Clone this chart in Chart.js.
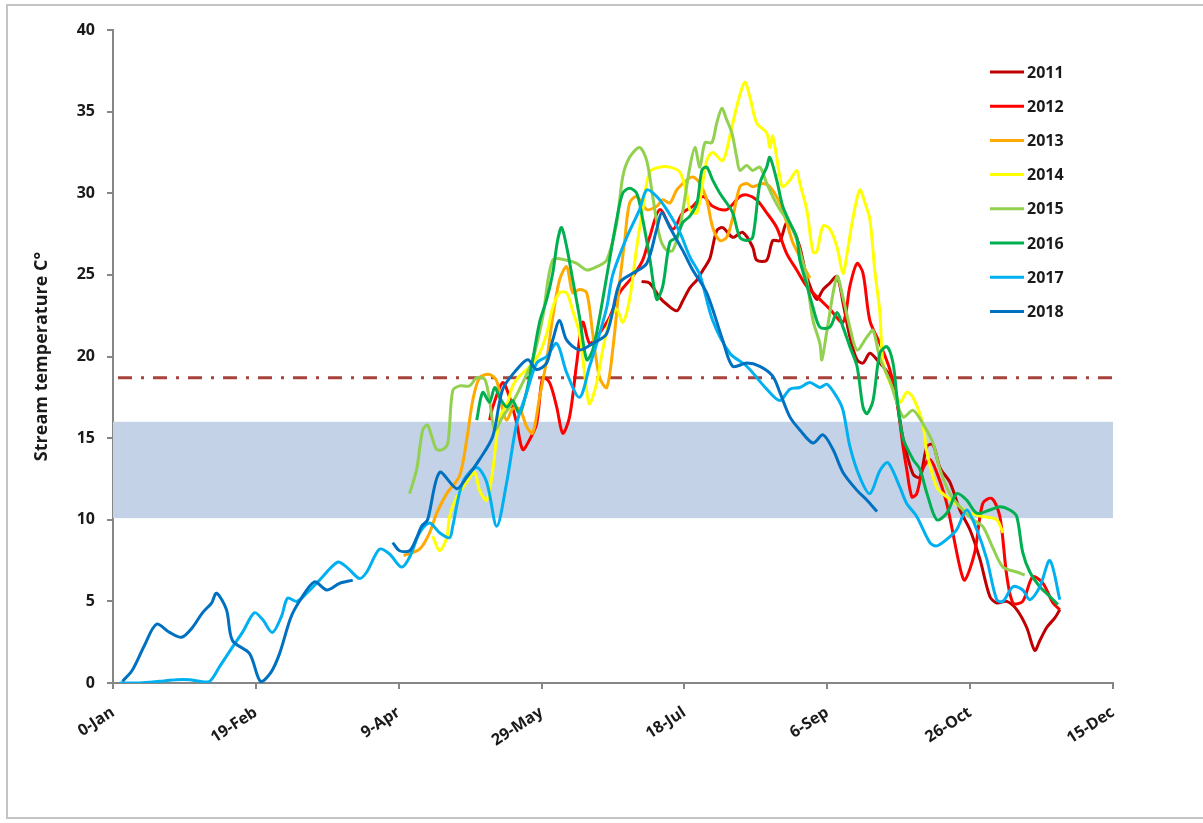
<!DOCTYPE html>
<html>
<head>
<meta charset="utf-8">
<script src="https://cdn.jsdelivr.net/npm/chart.js@4.4.1/dist/chart.umd.min.js"></script>
<style>
  html, body { margin: 0; padding: 0; background: #fff; }
  #contenedor { width: 1203px; height: 823px; }
</style>
</head>
<body>
<div id="contenedor"><canvas id="graficoTemperatura" width="1203" height="823"></canvas></div>
<script>
// dias del año (0 = 0-Jan) y temperatura del arroyo en °C
const anios = ["2011", "2012", "2013", "2014", "2015", "2016", "2017", "2018"]
const colores = ["#C00000", "#FF0000", "#FFAA00", "#FFFF00", "#92D050", "#00B050", "#00B0F0", "#0070C0"]
const etiquetasX = ["0-Jan", "19-Feb", "9-Apr", "29-May", "18-Jul", "6-Sep", "26-Oct", "15-Dec"]
const rangoOptimo = [10.1, 16]
const umbral = 18.7

const datos2011 = [[185,24.6],[187.8,24.5],[191.4,23.6],[193.8,23.2],[197.3,22.8],[199.4,23.4],[201.9,24.2],[204.4,24.7],[206.5,25.3],[208.9,26.0],[211.3,27.7],[213.4,27.9],[216.9,27.3],[220.4,27.6],[223.9,26.7],[225.3,25.9],[228.8,25.9],[230.9,27.1],[233.4,27.1],[235.8,28.2],[237.9,27.8],[240.4,26.7],[242.8,24.9],[246.3,23.5],[248.5,24.1],[250.9,24.5],[253.4,24.9],[255.5,23.3],[257.9,21.2],[260.4,19.8],[262.5,19.6],[264.9,20.2],[267.4,19.8],[271.9,18.8],[274.4,17.2],[276.5,15.0],[280,12.8],[282.4,12.6],[284.9,14.5],[287,14.6],[289.4,13.2],[292.9,12.3],[296.4,10.6],[299.9,9.4],[303.4,7.6],[306.9,5.3],[309.3,4.9],[312.8,5.0],[316.3,4.5],[319.8,3.4],[322.6,2.0],[324.4,2.6],[326.8,3.4],[329.7,4.0],[331.4,4.5]]

const datos2012 = [[131.8,16.1],[132.9,16.9],[136.4,18.4],[138.8,17.5],[141.3,15.9],[143.4,14.3],[145.8,14.9],[148.3,15.9],[150.4,18.7],[152.8,18.4],[155.3,16.9],[157.4,15.3],[159.8,16.3],[162.3,19.6],[164.4,22.1],[166.8,20.8],[169.3,21.2],[173.8,22.4],[177.3,23.9],[181.9,24.9],[185.4,25.9],[187.8,27.3],[191.4,29.0],[195.9,27.8],[199.4,28.8],[202.9,29.2],[206.5,29.8],[209.9,29.2],[214.8,29.0],[219.4,29.8],[221.8,29.9],[225.3,29.6],[228.8,28.8],[232.3,27.9],[235.8,26.3],[239.3,25.3],[242.8,24.3],[247.4,23.5],[250.9,22.9],[255.5,22.1],[257.9,24.3],[260.4,25.7],[262.5,25.1],[264.9,22.2],[268.4,20.8],[271.9,19.2],[274.4,17.2],[276.5,14.5],[277.8,13.1],[279.6,11.4],[281.3,11.6],[283.4,13.1],[285.9,13.7],[288.3,12.9],[291.8,11.0],[296.4,7.1],[298.1,6.3],[301.6,8.0],[304.4,11.0],[307.6,11.3],[310.4,10.2],[312.8,6.6],[315.0,4.9],[318.4,5.0],[321.9,6.5],[325.5,6.1],[329.0,4.9],[331.4,4.5]]

const datos2013 = [[101.7,7.8],[107.3,8.2],[110.8,9.2],[113.3,10.4],[116.8,11.6],[121.3,12.7],[123.8,14.9],[125.9,17.3],[128.3,18.7],[131.8,18.9],[134.3,18.5],[136.0,17.0],[137.8,16.1],[139.9,16.8],[142.3,16.8],[144.8,15.7],[146.9,15.3],[149.3,17.5],[151.8,19.8],[153.9,22.4],[156.3,24.7],[158.8,25.5],[160.9,23.9],[163.3,24.1],[165.8,23.9],[167.9,21.4],[170.3,18.7],[172.8,18.1],[174.9,20.4],[177.3,24.5],[179.1,27.1],[180.8,29.4],[183.3,29.8],[186.8,29.0],[190.3,29.2],[192.4,29.6],[194.9,29.4],[197.3,30.2],[200.8,30.8],[202.9,31.0],[205.4,30.6],[207.8,29.6],[209.9,27.9],[212.4,27.1],[214.8,27.3],[216.9,28.5],[219.4,30.4],[221.8,30.6],[223.9,30.4],[227.4,30.6],[229.9,30.4],[233.4,29.4],[235.8,28.2],[237.9,27.0],[240.4,26.1],[242.1,25.4],[243.9,24.8]]

const datos2014 = [[111.9,9.0],[114.3,8.1],[116.8,8.9],[117.8,10.2],[120.3,11.4],[123.8,12.3],[126.6,12.9],[128.3,11.8],[130.8,11.2],[132.9,13.0],[135.3,16.3],[137.8,17.0],[139.9,18.2],[142.3,18.8],[144.8,19.2],[146.9,19.6],[149.3,20.2],[151.8,21.4],[153.9,23.0],[156.3,23.9],[158.8,23.9],[160.9,22.8],[163.3,21.4],[165.8,17.9],[166.8,17.1],[169.3,18.4],[171.4,20.4],[173.8,22.2],[176.3,22.9],[178.4,22.1],[180.8,23.5],[183.3,26.7],[185.4,29.0],[187.8,31.3],[191.4,31.6],[194.9,31.6],[198.4,31.3],[200.8,30.0],[201.9,29.0],[204.4,28.8],[207.8,32.0],[209.9,32.5],[213.4,32.0],[215.9,33.5],[218.3,35.3],[221.1,36.8],[222.9,35.9],[225.3,34.3],[228.8,33.7],[229.9,32.8],[230.9,33.5],[233.4,31.0],[234.4,30.4],[236.9,30.8],[239.3,31.4],[240.4,30.6],[242.8,29.0],[245.0,26.4],[246.3,26.4],[248.5,28.0],[250.9,27.8],[253.4,26.7],[255.5,25.1],[256.9,26.3],[259.0,28.5],[261.4,30.2],[263.2,29.4],[264.9,28.4],[266.6,25.3],[268.4,22.7],[269.5,19.6],[271.9,18.4],[275.4,17.2],[277.8,17.8],[280.0,17.5],[283.4,15.9],[284.9,14.1],[288.3,12.0],[291.8,11.4],[296.4,10.8],[299.9,10.4],[304.4,10.2],[309.3,10.0],[311.5,9.2]]

const datos2015 = [[103.8,11.6],[106.3,13.1],[108.4,15.5],[110.1,15.8],[111.9,14.9],[113.3,14.3],[115.4,14.3],[117.2,14.7],[118.9,17.9],[121.3,18.2],[124.8,18.2],[127.3,18.7],[130.1,18.6],[131.8,17.3],[133.6,15.5],[136.4,16.3],[139.9,17.2],[143.4,18.4],[146.9,19.8],[150.4,22.4],[153.9,25.9],[158.8,25.9],[162.3,25.7],[165.8,25.3],[169.3,25.5],[172.8,25.9],[176.3,28.2],[178.4,31.0],[180.8,32.2],[184.3,32.8],[186.8,32.0],[188.9,29.8],[191.4,27.3],[193.8,26.5],[195.9,26.5],[198.4,27.9],[201.9,31.6],[203.7,32.8],[205.4,31.6],[207.2,33.1],[209.6,33.1],[211.3,34.3],[213.1,35.2],[214.8,34.5],[216.6,33.7],[218.3,32.2],[219.4,31.4],[221.8,31.7],[223.9,31.4],[226.4,31.6],[228.8,30.6],[230.9,29.8],[233.4,29.0],[235.8,28.4],[237.9,27.8],[240.4,26.5],[242.8,24.7],[245.0,22.2],[247.4,20.8],[248.1,19.8],[249.9,21.6],[253.4,24.9],[255.5,23.6],[257.9,21.8],[260.4,20.4],[263.9,21.2],[266.0,21.6],[268.4,19.9],[271.9,18.5],[276.5,16.3],[280.0,16.7],[283.4,15.9],[287.0,14.7],[289.4,13.1],[292.9,11.6],[296.4,10.8],[301.0,10.0],[304.4,9.6],[307.9,8.3],[311.5,7.1],[316.3,6.8],[319.1,6.6]]

const datos2016 = [[127.3,16.1],[129.4,17.8],[131.8,17.2],[133.6,18.1],[135.3,17.5],[137.8,16.9],[139.9,17.3],[142.3,16.5],[144.8,17.9],[146.9,19.8],[149.3,22.1],[151.8,23.5],[153.9,25.1],[155.6,27.1],[157.0,27.9],[158.8,26.7],[160.9,24.7],[163.3,22.4],[165.8,19.8],[167.9,20.4],[170.3,22.4],[172.8,24.9],[176.3,28.4],[178.4,30.0],[180.8,30.3],[183.3,30.0],[185.4,28.4],[187.8,26.1],[190.3,23.5],[192.4,24.3],[194.9,27.0],[197.3,27.3],[199.4,28.2],[201.9,28.6],[204.4,29.4],[206.1,31.4],[207.8,31.6],[209.9,30.8],[212.4,30.0],[214.8,29.4],[216.9,28.8],[219.4,27.3],[221.8,27.1],[223.9,27.3],[226.4,30.6],[228.8,31.6],[229.9,32.2],[232.3,30.8],[234.4,29.2],[236.9,28.2],[239.3,27.3],[240.4,25.9],[242.8,24.4],[245.0,23.0],[247.4,21.8],[250.9,21.8],[253.4,22.7],[255.5,21.8],[257.9,20.6],[260.4,19.4],[262.5,16.9],[263.9,16.5],[266.0,17.3],[268.4,20.2],[270.9,20.6],[273.0,19.6],[274.4,17.5],[276.5,15.0],[280.0,13.7],[282.4,13.1],[284.9,11.6],[288.3,10.0],[291.8,10.4],[295.3,11.6],[298.8,11.2],[302.3,10.4],[306.9,10.6],[310.4,10.8],[313.9,10.6],[316.3,10.2],[318.4,8.0],[320.9,6.8],[324.4,5.9],[327.9,5.3],[330.7,4.8]]

const datos2017 = [[2.3,0],[9.3,0],[16.3,0.1],[22.2,0.2],[26.8,0.2],[30.3,0.1],[33.8,0.1],[37.3,1.0],[41.8,2.2],[45.3,3.1],[49.5,4.3],[52.3,3.9],[55.8,3.1],[59.0,4.1],[61.1,5.2],[64.3,5.0],[67.8,5.5],[72.3,6.3],[78.6,7.4],[81.8,7.1],[86.3,6.4],[88.8,6.8],[93.3,8.2],[96.8,7.9],[101.0,7.1],[103.8,7.7],[107.3,9.2],[110.8,9.8],[114.3,9.2],[117.8,8.9],[118.9,9.6],[122.4,12.3],[127.3,13.2],[130.8,12.3],[134.3,9.6],[137.8,12.3],[141.3,15.9],[144.8,17.8],[148.3,19.6],[151.8,20.0],[155.3,20.8],[158.8,19.0],[163.3,17.5],[166.8,19.4],[169.3,20.8],[172.8,23.0],[174.9,25.0],[179.8,27.3],[184.3,29.0],[186.8,30.2],[190.3,29.8],[193.8,29.0],[198.4,27.6],[201.9,26.1],[205.4,25.0],[209.9,22.2],[215.9,20.2],[221.8,19.4],[228.8,18.0],[233.4,17.3],[236.9,18.0],[240.4,18.1],[243.9,18.4],[247.4,18.1],[249.9,18.3],[253.4,17.5],[255.5,16.7],[257.9,14.5],[261.4,12.6],[264.9,11.6],[268.4,13.0],[271.2,13.5],[275.4,12.0],[277.8,11.0],[281.3,10.2],[285.9,8.6],[288.3,8.4],[291.8,8.8],[295.3,9.4],[298.8,10.6],[302.3,9.4],[305.8,7.6],[309.3,5.1],[311.5,5.0],[315.0,5.9],[318.4,5.7],[320.9,5.1],[324.4,5.9],[327.9,7.5],[331.4,5.1]]

const datos2018 = [[3.3,0.1],[6.8,0.8],[11.0,2.3],[15.2,3.6],[19.8,3.1],[24.0,2.8],[27.8,3.4],[31.3,4.3],[34.5,4.9],[36.2,5.5],[39.7,4.5],[41.8,2.6],[47.8,1.8],[51.6,0.1],[55.1,0.6],[58.3,1.8],[62.2,4.0],[65.6,5.1],[70.5,6.2],[74.8,5.7],[79.3,6.1],[83.9,6.3],[90,null],[97.9,8.6],[100.3,8.1],[103.8,8.1],[106.3,8.9],[108.0,9.6],[110.1,10.0],[114.3,12.9],[120.3,11.9],[123.8,12.6],[128.3,13.7],[132.9,15.1],[136.4,18.0],[141.3,19.2],[145.2,19.8],[148.3,19.2],[151.8,19.6],[153.9,21.0],[156.3,22.2],[158.8,21.0],[163.3,20.4],[167.9,20.8],[172.8,21.4],[177.3,24.5],[181.9,25.1],[186.8,25.7],[190.3,27.8],[192.1,28.8],[194.9,27.9],[199.4,26.5],[202.9,25.3],[207.8,23.9],[213.4,21.0],[216.9,19.4],[221.8,19.6],[226.4,19.4],[230.9,18.8],[233.4,17.8],[236.9,16.3],[240.4,15.5],[245.0,14.7],[248.5,15.2],[252.0,14.3],[255.5,12.9],[260.4,11.8],[263.9,11.2],[267.4,10.5]]

const series = [datos2011, datos2012, datos2013, datos2014, datos2015, datos2016, datos2017, datos2018]

const fuente = "'Open Sans', 'DejaVu Sans', sans-serif"
const grisEje = "#868686"

// banda del rango optimo y linea de umbral, debajo de las series
const zonaReferencia = {
  id: "zonaReferencia",
  beforeDatasetsDraw: (chart) => {
    const { ctx, scales: { x, y } } = chart
    const x0 = x.getPixelForValue(x.min)
    const x1 = x.getPixelForValue(x.max)
    const yArriba = y.getPixelForValue(rangoOptimo[1])
    const yAbajo = y.getPixelForValue(rangoOptimo[0])
    ctx.save()
    ctx.fillStyle = "#C3D2E7"
    ctx.fillRect(x0, yArriba, x1 - x0, yAbajo - yArriba)

    const yUmbral = y.getPixelForValue(umbral)
    ctx.strokeStyle = "#A8423D"
    ctx.lineWidth = 3
    ctx.setLineDash([14, 9, 3, 9])
    ctx.beginPath()
    ctx.moveTo(x0 + 5, yUmbral)
    ctx.lineTo(x1, yUmbral)
    ctx.stroke()
    ctx.restore()
  },
}

// leyenda a la derecha dentro del area del grafico
const leyenda = {
  id: "leyenda",
  afterDraw: (chart) => {
    const { ctx } = chart
    ctx.save()
    ctx.font = "bold 16px " + fuente
    ctx.textBaseline = "middle"
    anios.forEach((anio, i) => {
      const yItem = 72 + i * 34.2
      ctx.strokeStyle = colores[i]
      ctx.lineWidth = 3
      ctx.beginPath()
      ctx.moveTo(990, yItem)
      ctx.lineTo(1024, yItem)
      ctx.stroke()
      ctx.fillStyle = "#1a1a1a"
      ctx.fillText(anio, 1027, yItem + 1)
    })
    ctx.restore()
  },
}

// marco gris del grafico
const marco = {
  id: "marco",
  beforeDraw: (chart) => {
    const { ctx } = chart
    ctx.save()
    ctx.fillStyle = "#fff"
    ctx.fillRect(0, 0, chart.width, chart.height)
    ctx.strokeStyle = "#C4C4C4"
    ctx.lineWidth = 2
    ctx.strokeRect(7, 5, 1210, 813)
    ctx.restore()
  },
}

const lienzo = document.getElementById("graficoTemperatura")

new Chart(lienzo, {
  type: "line",
  data: {
    datasets: series.map((serie, i) => ({
      label: anios[i],
      data: serie.map((p) => ({ x: p[0], y: p[1] })),
      borderColor: colores[i],
      backgroundColor: colores[i],
      borderWidth: 3,
      pointRadius: 0,
      tension: 0.3,
      fill: false,
      spanGaps: false,
      order: anios.length - i,
    })),
  },
  options: {
    responsive: false,
    animation: false,
    events: [],
    layout: { padding: { left: 0, top: 30, right: 90, bottom: 0 } },
    plugins: {
      legend: { display: false },
      tooltip: { enabled: false },
    },
    scales: {
      x: {
        type: "linear",
        min: 0,
        max: 350,
        afterFit: (escala) => { escala.height = 140 },
        grid: { drawOnChartArea: false, color: grisEje, lineWidth: 2, tickLength: 6 },
        border: { color: grisEje, width: 2 },
        ticks: {
          stepSize: 50,
          autoSkip: false,
          minRotation: 33,
          maxRotation: 33,
          padding: 14,
          color: "#1a1a1a",
          font: { family: fuente, size: 16, weight: "bold" },
          callback: (valor) => etiquetasX[valor / 50],
        },
      },
      y: {
        min: 0,
        max: 40,
        afterFit: (escala) => { escala.width = 113 },
        grid: { drawOnChartArea: false, color: grisEje, lineWidth: 2, tickLength: 6 },
        border: { color: grisEje, width: 2 },
        ticks: {
          stepSize: 5,
          padding: 12,
          color: "#1a1a1a",
          font: { family: fuente, size: 16, weight: "bold" },
        },
        title: {
          display: true,
          text: "Stream temperature C°",
          color: "#1a1a1a",
          font: { family: fuente, size: 18, weight: "bold" },
          padding: { top: 31, bottom: 0 },
        },
      },
    },
  },
  plugins: [marco, zonaReferencia, leyenda],
})
</script>
</body>
</html>
